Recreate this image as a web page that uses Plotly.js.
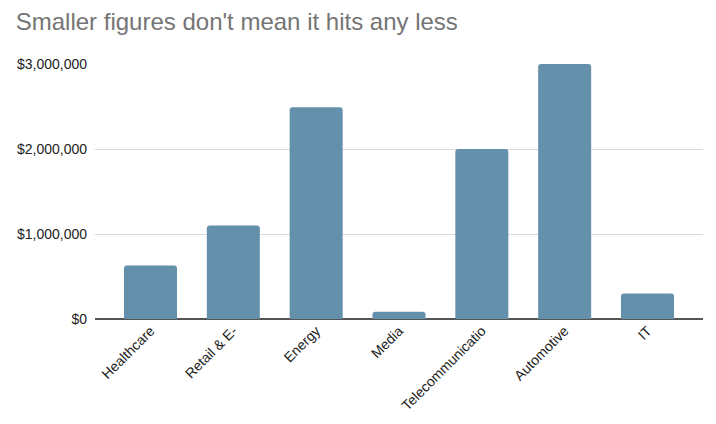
<!DOCTYPE html>
<html>
<head>
<meta charset="utf-8">
<script src="https://cdn.plot.ly/plotly-3.0.1.min.js"></script>
<style>html,body{margin:0;padding:0;background:#fff;}#chart{width:716px;height:424px;}</style>
</head>
<body>
<div id="chart"></div>
<script>
const categories = ["Healthcare", "Retail & E-", "Energy", "Media", "Telecommunicatio", "Automotive", "IT"];
const values = [630000, 1100000, 2490000, 85000, 2000000, 3000000, 300000];
const yTickVals = [0, 1000000, 2000000, 3000000];
const yTickText = ["$0", "$1,000,000", "$2,000,000", "$3,000,000"];
const titleText = "Smaller figures don't mean it hits any less";

Plotly.newPlot("chart", [{
  type: "bar",
  x: categories,
  y: values,
  marker: {color: "#6590ab"},
  hoverinfo: "none"
}], {
  width: 716, height: 424,
  margin: {l: 95, r: 13, t: 64, b: 105},
  paper_bgcolor: "#fff", plot_bgcolor: "#fff",
  font: {family: "Liberation Sans, Arial, sans-serif", size: 14, color: "#222"},
  title: {text: titleText, x: 0.022, xanchor: "left", y: 0.95, yanchor: "middle",
          font: {size: 24, color: "#757575", family: "Liberation Sans, Arial, sans-serif"}},
  bargap: 0.36,
  barcornerradius: 3,
  showlegend: false,
  xaxis: {
    type: "category",
    range: [-0.67, 6.67],
    tickangle: -45,
    showgrid: false,
    showline: false,
    zeroline: false,
    ticks: "",
    tickfont: {size: 14, color: "#222"},
    fixedrange: true
  },
  yaxis: {
    range: [0, 3000000],
    tickvals: yTickVals,
    ticktext: yTickText,
    showgrid: true,
    gridcolor: "#d9d9d9",
    gridwidth: 1,
    zeroline: true,
    zerolinecolor: "#555",
    zerolinewidth: 1.5,
    ticks: "",
    ticklabelstandoff: 7,
    tickfont: {size: 14, color: "#222"},
    fixedrange: true
  }
}, {displayModeBar: false, staticPlot: true});
</script>
</body>
</html>
